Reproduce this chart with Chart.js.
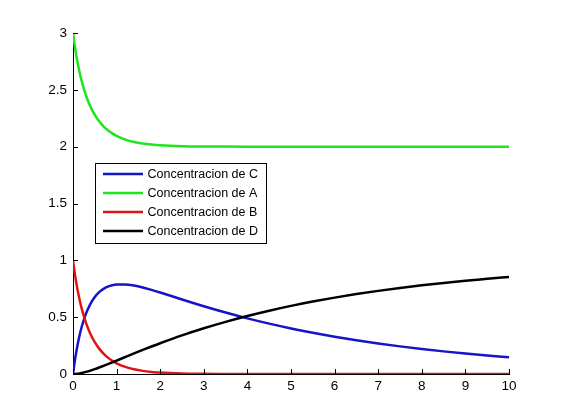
<!DOCTYPE html>
<html>
<head>
<meta charset="utf-8">
<script src="https://cdn.jsdelivr.net/npm/chart.js@4"></script>
<style>
  html, body { margin: 0; padding: 0; background: #ffffff; }
  #wrap { width: 561px; height: 420px; }
</style>
</head>
<body>
<div id="wrap"><canvas id="c" width="561" height="420"></canvas></div>
<script>
const times = [0, 0.05, 0.1, 0.15, 0.2, 0.3, 0.4, 0.5, 0.6, 0.7, 0.8, 0.9, 1.0, 1.2, 1.4, 1.6, 1.8, 2.0, 2.5, 3.0, 3.5, 4.0, 4.5, 5, 5.5, 6, 6.5, 7, 7.5, 8, 8.5, 9, 9.5, 10];
const concC = [0, 0.1356, 0.2468, 0.3389, 0.4154, 0.5336, 0.6176, 0.6775, 0.7198, 0.7492, 0.7688, 0.7810, 0.7874, 0.7880, 0.7777, 0.7608, 0.7399, 0.7169, 0.6560, 0.5963, 0.5405, 0.4894, 0.4430, 0.4008, 0.3627, 0.3282, 0.2970, 0.2687, 0.2431, 0.2200, 0.1991, 0.1801, 0.1630, 0.1475];
const concA = [3, 2.8637, 2.7507, 2.6558, 2.5755, 2.4478, 2.3523, 2.2795, 2.2232, 2.1791, 2.1443, 2.1166, 2.0945, 2.0624, 2.0414, 2.0275, 2.0184, 2.0123, 2.0045, 2.0017, 2.0006, 2.0002, 2.0001, 2, 2, 2, 2, 2, 2, 2, 2, 2, 2, 2];
const concB = [1, 0.8637, 0.7507, 0.6558, 0.5755, 0.4478, 0.3523, 0.2795, 0.2232, 0.1791, 0.1443, 0.1166, 0.0945, 0.0624, 0.0414, 0.0275, 0.0184, 0.0123, 0.0045, 0.0017, 0.0006, 0.0002, 0.0001, 0, 0, 0, 0, 0, 0, 0, 0, 0, 0, 0];
const concD = [0, 0.0007, 0.0025, 0.0053, 0.0091, 0.0186, 0.0301, 0.0430, 0.0570, 0.0717, 0.0869, 0.1024, 0.1181, 0.1496, 0.1809, 0.2117, 0.2417, 0.2708, 0.3395, 0.4021, 0.4589, 0.5104, 0.5570, 0.5992, 0.6373, 0.6718, 0.7030, 0.7313, 0.7569, 0.7800, 0.8009, 0.8199, 0.8370, 0.8540];
const seriesLabels = ['Concentracion de C', 'Concentracion de A', 'Concentracion de B', 'Concentracion de D'];
const xTicks = [0, 1, 2, 3, 4, 5, 6, 7, 8, 9, 10];
const yTicks = [0, 0.5, 1, 1.5, 2, 2.5, 3];

const colors = ['#1414c8', '#1ee61e', '#e01414', '#000000'];
const seriesData = [concC, concA, concB, concD];

const pts = arr => times.map((t, i) => ({ x: t, y: arr[i] }));

const FONT = '"Liberation Sans", Arial, Helvetica, sans-serif';

const insideTicks = {
  id: 'insideTicks',
  afterDraw(chart) {
    const { ctx, chartArea, scales } = chart;
    ctx.save();
    ctx.strokeStyle = '#000';
    ctx.lineWidth = 1;
    ctx.beginPath();
    xTicks.forEach(v => {
      const px = Math.round(scales.x.getPixelForValue(v)) + 0.5;
      ctx.moveTo(px, chartArea.bottom);
      ctx.lineTo(px, chartArea.bottom - 5);
    });
    yTicks.forEach(v => {
      const py = Math.round(scales.y.getPixelForValue(v)) + 0.5;
      ctx.moveTo(chartArea.left, py);
      ctx.lineTo(chartArea.left + 5, py);
    });
    ctx.stroke();
    ctx.restore();
  }
};

const boxLegend = {
  id: 'boxLegend',
  afterDraw(chart) {
    const { ctx } = chart;
    const bx = 95.5, by = 163.5, bw = 171, bh = 80;
    ctx.save();
    ctx.fillStyle = '#fff';
    ctx.fillRect(bx, by, bw, bh);
    ctx.strokeStyle = '#000';
    ctx.lineWidth = 1;
    ctx.strokeRect(bx, by, bw, bh);
    const rows = [174, 193, 212, 231];
    ctx.font = '12.5px ' + FONT;
    ctx.textBaseline = 'middle';
    ctx.textAlign = 'left';
    seriesLabels.forEach((lab, i) => {
      ctx.strokeStyle = colors[i];
      ctx.lineWidth = 2.5;
      ctx.beginPath();
      ctx.moveTo(103, rows[i]);
      ctx.lineTo(143, rows[i]);
      ctx.stroke();
      ctx.fillStyle = '#000';
      ctx.fillText(lab, 147.5, rows[i] + 0.5);
    });
    ctx.restore();
  }
};

new Chart(document.getElementById('c'), {
  type: 'line',
  data: {
    datasets: seriesLabels.map((lab, i) => ({
      label: lab,
      data: pts(seriesData[i]),
      borderColor: colors[i],
      backgroundColor: colors[i],
      borderWidth: 2.5,
      pointRadius: 0,
      cubicInterpolationMode: 'monotone',
      fill: false,
      order: 4 - i
    }))
  },
  options: {
    responsive: false,
    animation: false,
    devicePixelRatio: 1,
    layout: { padding: { top: 33, right: 52, left: 0, bottom: 0 } },
    plugins: {
      legend: { display: false },
      tooltip: { enabled: false }
    },
    scales: {
      x: {
        type: 'linear',
        min: 0, max: 10,
        grid: { display: false, drawTicks: false, tickLength: 0 },
        border: { display: true, color: '#000', width: 1 },
        afterBuildTicks: s => { s.ticks = xTicks.map(v => ({ value: v })); },
        afterFit: s => { s.height = 46; },
        ticks: {
          color: '#000',
          font: { family: FONT, size: 13.5 },
          padding: 4,
          maxRotation: 0,
          autoSkip: false
        }
      },
      y: {
        type: 'linear',
        min: 0, max: 3,
        grid: { display: false, drawTicks: false, tickLength: 0 },
        border: { display: true, color: '#000', width: 1 },
        afterBuildTicks: s => { s.ticks = yTicks.map(v => ({ value: v })); },
        afterFit: s => { s.width = 73; },
        ticks: {
          color: '#000',
          font: { family: FONT, size: 13.5 },
          padding: 6,
          autoSkip: false,
          callback: v => String(v)
        }
      }
    }
  },
  plugins: [insideTicks, boxLegend]
});
</script>
</body>
</html>
